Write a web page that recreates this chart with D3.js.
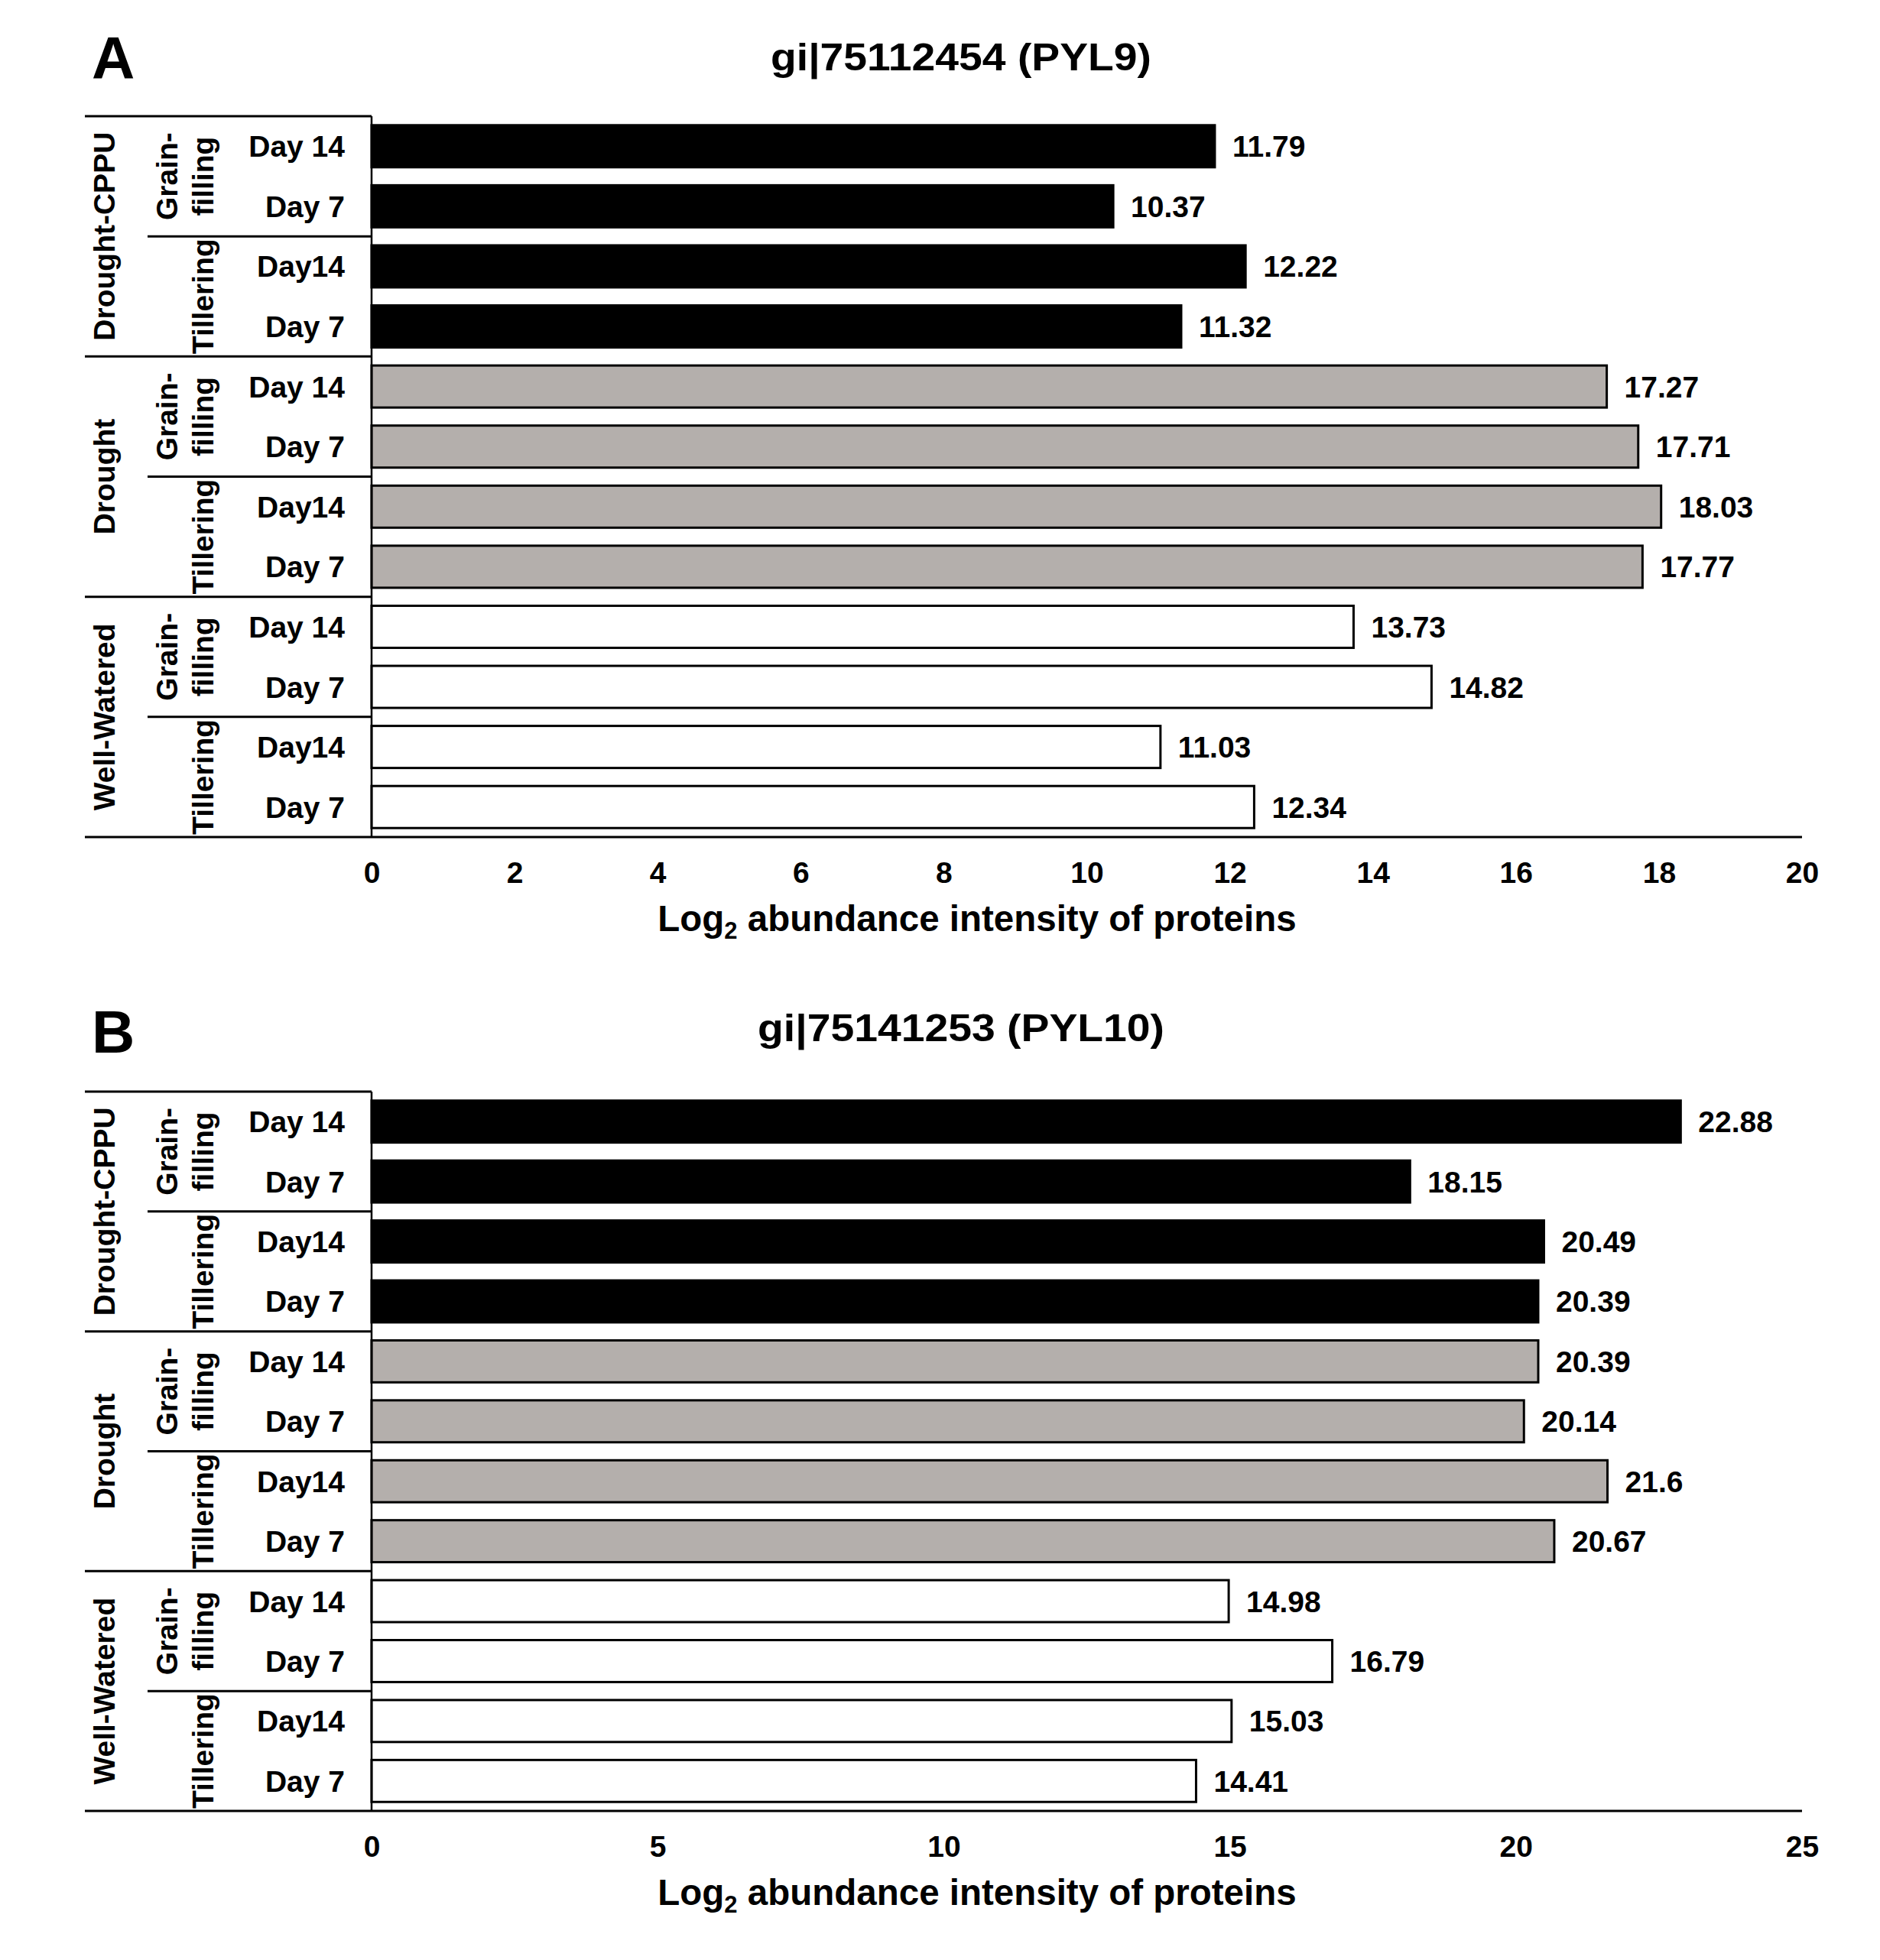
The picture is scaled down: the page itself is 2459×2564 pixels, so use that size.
<!DOCTYPE html>
<html><head><meta charset="utf-8">
<script src="https://cdn.jsdelivr.net/npm/d3@7"></script>
<style>
body{margin:0;background:#fff}
svg{display:block;background:#fff}
text{font-family:"Liberation Sans",Arial,Helvetica,sans-serif;font-weight:bold;fill:#000}
</style>
</head><body>
<svg id="c" width="2459" height="2564"></svg>
<script>
// ---- data ----
const treatments = ["Drought-CPPU", "Drought", "Well-Watered"];
const treatmentColors = ["#000000", "#b4afac", "#ffffff"];
const stages = [["Grain-", "filling"], ["Tillering"]];
const dayLabels = ["Day 14", "Day 7", "Day14", "Day 7"];
const valuesA = [11.79, 10.37, 12.22, 11.32, 17.27, 17.71, 18.03, 17.77, 13.73, 14.82, 11.03, 12.34];
const valuesB = [22.88, 18.15, 20.49, 20.39, 20.39, 20.14, 21.6, 20.67, 14.98, 16.79, 15.03, 14.41];
const ticksA = [0, 2, 4, 6, 8, 10, 12, 14, 16, 18, 20];
const ticksB = [0, 5, 10, 15, 20, 25];
const panelLetters = ["A", "B"];
const panelTitles = ["gi|75112454 (PYL9)", "gi|75141253 (PYL10)"];
const axisTitleMain = "Log";
const axisTitleSub = "2";
const axisTitleRest = " abundance intensity of proteins";

// ---- layout ----
const layout = [
  {top: 152, bottom: 1095, titleY: 92, letterY: 103, titleLen: 498},
  {top: 1428, bottom: 2369, titleY: 1362, letterY: 1377, titleLen: 532}
];
const leftEdge = 111, subLeft = 193, axisX = 486, rightX = 2357;

const svg = d3.select("#c");
svg.append("rect").attr("width", 2459).attr("height", 2564).attr("fill", "#fff");

function drawPanel(p, values, ticks, L) {
  const g = svg.append("g");
  const n = values.length;
  const rows = values.map((v, i) => ({
    i, v,
    t: Math.floor(i / 4),
    s: Math.floor((i % 4) / 2),
    day: dayLabels[i % 4]
  }));
  const y = d3.scaleBand().domain(d3.range(n)).range([L.top, L.bottom])
    .paddingInner(0.3).paddingOuter(0.15);
  const x = d3.scaleLinear().domain([0, d3.max(ticks)]).range([axisX, rightX]);
  const bw = y.bandwidth();
  const gap = (y.step() - bw) / 2;
  const boundary = i => (i >= n ? L.bottom : y(i) - gap);

  // bars
  g.selectAll("rect.bar").data(rows).join("rect")
    .attr("class", "bar")
    .attr("x", x(0))
    .attr("y", d => y(d.i))
    .attr("width", d => x(d.v) - x(0))
    .attr("height", bw)
    .attr("fill", d => treatmentColors[d.t])
    .attr("stroke", "#000")
    .attr("stroke-width", 3);

  // value labels
  g.selectAll("text.val").data(rows).join("text")
    .attr("class", "val")
    .attr("x", d => x(d.v) + 23)
    .attr("y", d => y(d.i) + bw / 2 + 14)
    .attr("font-size", 39)
    .text(d => String(d.v));

  // day labels
  g.selectAll("text.day").data(rows).join("text")
    .attr("class", "day")
    .attr("x", 451)
    .attr("y", d => y(d.i) + bw / 2 + 14)
    .attr("text-anchor", "end")
    .attr("font-size", 39)
    .text(d => d.day);

  // separators
  [0, 4, 8].forEach(i => {
    g.append("line").attr("x1", leftEdge).attr("x2", axisX)
      .attr("y1", boundary(i)).attr("y2", boundary(i))
      .attr("stroke", "#000").attr("stroke-width", 3);
  });
  [2, 6, 10].forEach(i => {
    g.append("line").attr("x1", subLeft).attr("x2", axisX)
      .attr("y1", boundary(i)).attr("y2", boundary(i))
      .attr("stroke", "#000").attr("stroke-width", 3);
  });
  // vertical axis
  g.append("line").attr("x1", axisX).attr("x2", axisX)
    .attr("y1", L.top).attr("y2", L.bottom)
    .attr("stroke", "#000").attr("stroke-width", 2.5);
  // bottom axis line
  g.append("line").attr("x1", leftEdge).attr("x2", rightX)
    .attr("y1", L.bottom).attr("y2", L.bottom)
    .attr("stroke", "#000").attr("stroke-width", 3);

  // treatment labels
  treatments.forEach((name, t) => {
    const cy = (boundary(t * 4) + boundary(t * 4 + 4)) / 2;
    g.append("text")
      .attr("transform", `translate(150,${cy}) rotate(-90)`)
      .attr("text-anchor", "middle")
      .attr("font-size", 39)
      .text(name);
    stages.forEach((lines, s) => {
      const sy = (boundary(t * 4 + s * 2) + boundary(t * 4 + s * 2 + 2)) / 2;
      const xs = lines.length === 2 ? [232, 279] : [279];
      lines.forEach((ln, k) => {
        g.append("text")
          .attr("transform", `translate(${xs[k]},${sy}) rotate(-90)`)
          .attr("text-anchor", "middle")
          .attr("font-size", 39)
          .text(ln);
      });
    });
  });

  // x axis ticks (labels only)
  const ax = g.append("g").attr("transform", `translate(0,${L.bottom})`)
    .call(d3.axisBottom(x).tickValues(ticks).tickSize(0).tickPadding(32).tickFormat(d3.format("d")));
  ax.select(".domain").remove();
  ax.selectAll("text").attr("font-size", 39)
    .attr("font-family", '"Liberation Sans",Arial,sans-serif').attr("font-weight", "bold").attr("fill", "#000");

  // axis title
  const at = g.append("text").attr("x", 1278).attr("y", L.bottom + 123)
    .attr("text-anchor", "middle").attr("font-size", 47.5);
  at.append("tspan").text(axisTitleMain);
  at.append("tspan").attr("font-size", 31).attr("dy", 10).text(axisTitleSub);
  at.append("tspan").attr("dy", -10).text(axisTitleRest);

  // panel title
  g.append("text").attr("x", 1257).attr("y", L.titleY)
    .attr("text-anchor", "middle").attr("font-size", 50)
    .attr("textLength", L.titleLen).attr("lengthAdjust", "spacingAndGlyphs")
    .text(panelTitles[p]);
  // panel letter
  g.append("text").attr("x", 120).attr("y", L.letterY)
    .attr("font-size", 78).text(panelLetters[p]);
}

drawPanel(0, valuesA, ticksA, layout[0]);
drawPanel(1, valuesB, ticksB, layout[1]);
</script>
</body></html>
